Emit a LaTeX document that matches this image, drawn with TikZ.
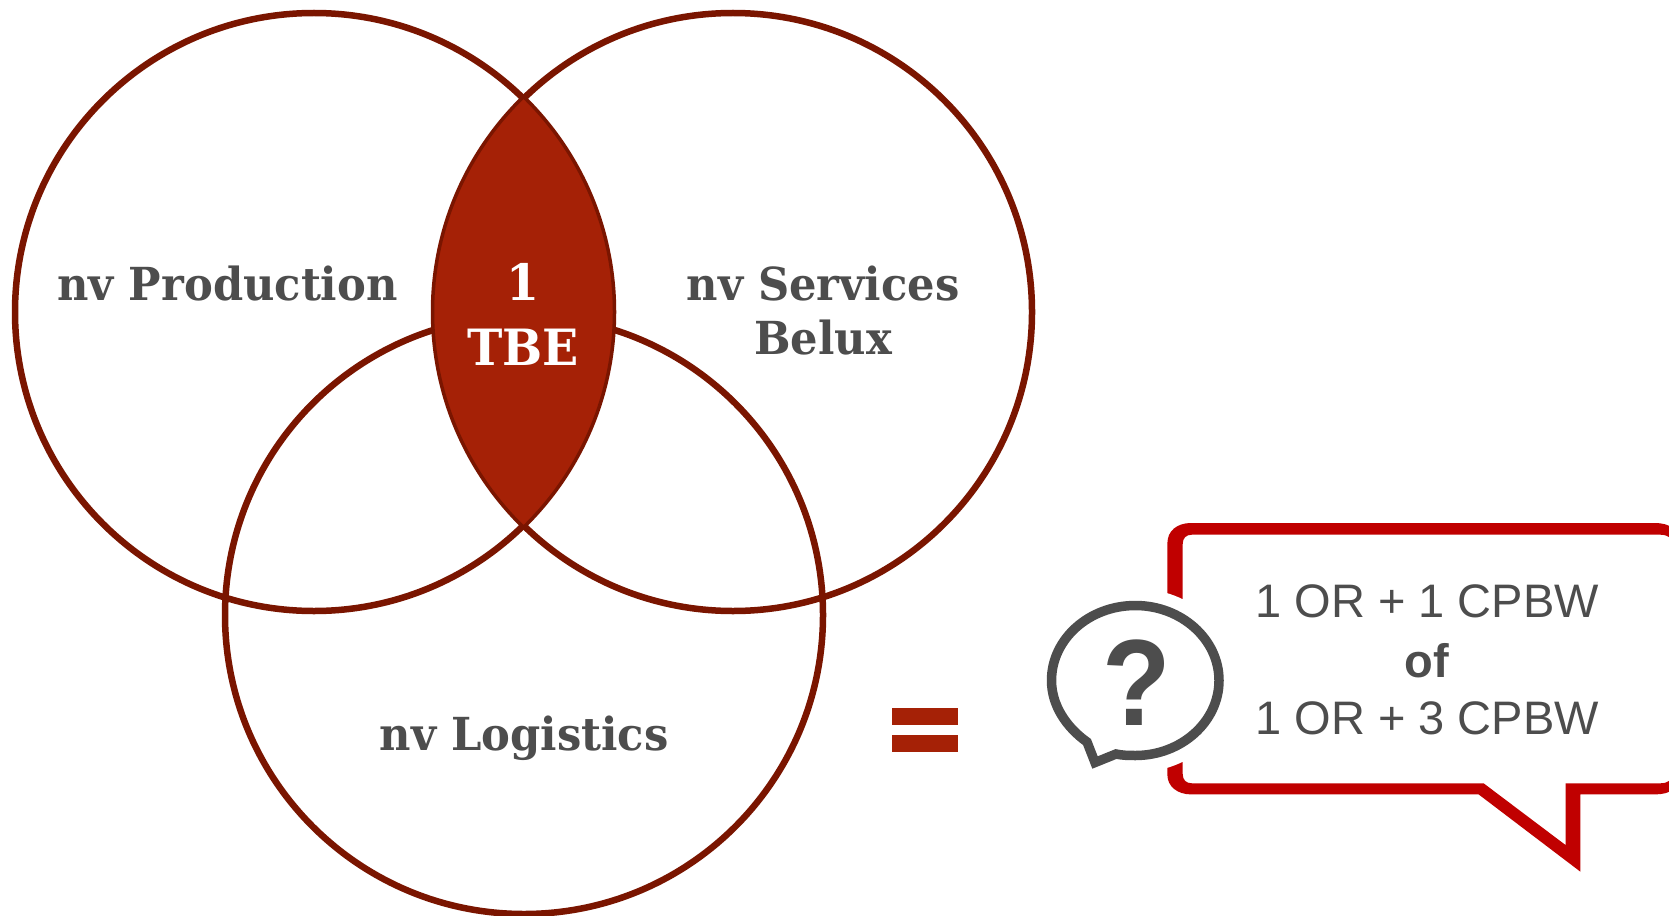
\documentclass[tikz,border=0pt]{standalone}
\usepackage{fontspec}
\setsansfont{Liberation Sans}
\newfontfamily\vennfont[FakeStretch=0.95]{DejaVu Serif}
\definecolor{lensfill}{HTML}{A52106}
\definecolor{ringline}{HTML}{7A1500}
\definecolor{calloutred}{HTML}{C00000}
\definecolor{txtgrey}{HTML}{4D4D4D}
\tikzset{
  ring/.style={circle,draw=ringline,line width=6.5pt,minimum size=598pt,inner sep=0pt},
  vennlabel/.style={font=\vennfont\fontsize{45.5}{52}\selectfont\bfseries,text=txtgrey,align=center,inner sep=0pt,anchor=base},
  lenslabel/.style={vennlabel,font=\vennfont\fontsize{50}{56}\selectfont\bfseries,text=white},
  calloutlabel/.style={font=\sffamily\fontsize{47}{58}\selectfont,text=txtgrey,inner sep=0pt,anchor=base},
}
\begin{document}
\begin{tikzpicture}[x=1pt,y=-1pt]
\useasboundingbox (0,0) rectangle (1669,915);
\clip (0,0) rectangle (1669,915);
\fill[white] (0,0) rectangle (1669,915);
% three circles
\node[ring] (cA) at (314,312) {};
\node[ring] (cB) at (733,312) {};
\node[ring] (cC) at (524,615) {};
% lens
\begin{scope}
  \clip (314,312) circle[radius=300];
  \fill[lensfill] (733,312) circle[radius=300];
\end{scope}
\begin{scope}
  \clip (314,312) circle[radius=301.5];
  \draw[ringline,line width=2.5pt] (733,312) circle[radius=300];
\end{scope}
\begin{scope}
  \clip (733,312) circle[radius=301.5];
  \draw[ringline,line width=2.5pt] (314,312) circle[radius=300];
\end{scope}
% labels
\node[vennlabel] (lP) at (227.5,300) {nv Production};
\node[vennlabel] (lS) at (823,300) {nv Services};
\node[vennlabel] (lB) at (823,354.5) {Belux};
\node[vennlabel] (lL) at (524,750) {nv Logistics};
\node[lenslabel] (l1) at (523,300) {1};
\node[lenslabel] (lT) at (523,365) {TBE};
% equals
\fill[lensfill] (892,708) rectangle (957.5,724.5);
\fill[lensfill] (892,735.3) rectangle (957.5,751.5);
% callout
\fill[calloutred,even odd rule]
  (1191,523) -- (1655,523) .. controls (1670,523) and (1680,530) .. (1680,545)
  -- (1680,775) .. controls (1680,788) and (1670,794.4) .. (1655,794.4)
  -- (1580.4,794.4) -- (1580.4,871.7) -- (1478.6,794.4) -- (1191,794.4)
  .. controls (1177,794.4) and (1167.4,786) .. (1167.4,775)
  -- (1167.4,543) .. controls (1167.4,531) and (1177,523) .. (1191,523) -- cycle
  (1192,534.7) -- (1660,534.7) .. controls (1668,534.7) and (1673,538) .. (1673,546)
  -- (1673,772) .. controls (1673,780) and (1668,783.3) .. (1660,783.3)
  -- (1565.5,783.3) -- (1565.5,845) -- (1483.6,783.3) -- (1192,783.3)
  .. controls (1186,783.3) and (1182.7,780) .. (1182.7,774)
  -- (1182.7,544) .. controls (1182.7,538) and (1186,534.7) .. (1192,534.7) -- cycle;
% white halo + bubble
\fill[white] (1135.4,680.5) ellipse[x radius=101,y radius=92];
\path[fill=white,draw=txtgrey,line width=9.5pt,miter limit=10]
  (1116,754) .. controls (1122,755.3) and (1128,755.5) .. (1135.4,755.5)
  .. controls (1181,755.5) and (1219,722) .. (1219,680.5)
  .. controls (1219,639) and (1181,605.5) .. (1135.4,605.5)
  .. controls (1089,605.5) and (1051.5,639) .. (1051.5,680.5)
  .. controls (1051.5,705) and (1066,727) .. (1087,742)
  -- (1095,762.5) -- cycle;
\node[font=\sffamily\bfseries\fontsize{118}{118}\selectfont,text=txtgrey,inner sep=0pt,anchor=base,xscale=.95,yscale=1.04] (q) at (1136.5,725) {?};
% callout text
\node[calloutlabel] (t1) at (1427,617) {1 OR + 1 CPBW};
\node[calloutlabel,font=\sffamily\bfseries\fontsize{47}{58}\selectfont] (t2) at (1427,677.5) {of};
\node[calloutlabel] (t3) at (1427,734) {1 OR + 3 CPBW};
\end{tikzpicture}
\end{document}
